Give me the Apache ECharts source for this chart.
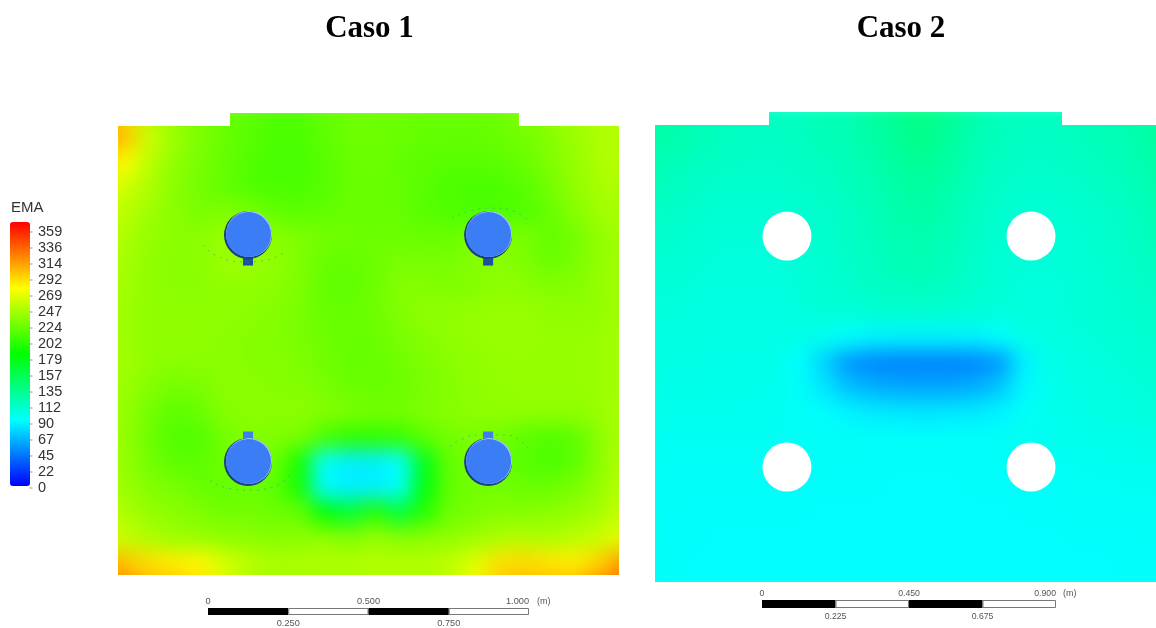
<!DOCTYPE html>
<html><head><meta charset="utf-8">
<style>html,body{margin:0;padding:0;background:#fff;overflow:hidden;width:1156px;height:628px}#c{width:1220px;height:628px}</style>
<script src="https://cdn.jsdelivr.net/npm/echarts@6/dist/echarts.min.js"></script>
</head><body><div id="c"></div>
<script>
const legendTicks=['0','22','45','67','90','112','135','157','179','202','224','247','269','292','314','336','359'];
const caso1Rows=[
[300,285,240,228,222,216,212,208,208,214,218,218,218,216,216,216,218,224,230,236,240,245],
[305,290,252,234,224,216,210,206,206,212,218,218,216,214,214,214,216,220,226,234,240,244],
[285,268,245,230,222,215,208,205,205,210,216,218,214,212,210,210,212,216,224,232,240,244],
[265,252,240,228,220,214,208,206,206,210,215,216,215,210,206,205,206,210,220,230,238,242],
[252,245,235,228,222,224,222,214,212,214,216,216,215,210,208,206,206,208,215,227,235,240],
[248,240,232,228,228,234,232,228,224,220,218,217,218,216,216,222,224,222,214,220,230,238],
[244,238,230,228,228,234,234,230,224,216,214,217,222,222,222,226,228,224,216,222,231,238],
[242,236,230,228,228,230,230,228,224,214,213,218,226,226,224,226,230,228,226,226,231,238],
[240,235,230,230,230,230,228,226,222,216,215,218,225,230,230,232,233,233,230,230,231,238],
[238,235,230,230,230,228,226,226,222,218,215,216,222,226,230,232,233,233,232,232,233,238],
[238,236,230,228,228,228,226,226,224,219,215,215,219,224,227,230,232,232,232,232,233,238],
[236,234,226,220,222,228,228,226,226,222,217,215,217,222,226,229,231,232,232,232,233,238],
[236,232,220,212,216,226,228,228,228,226,223,220,221,224,227,229,230,230,230,230,233,240],
[238,232,218,208,208,220,226,224,222,205,196,196,198,212,220,222,220,212,208,212,228,242],
[240,232,220,212,212,218,224,218,186,92,84,84,90,170,214,222,216,210,206,212,228,244],
[242,234,226,222,216,214,216,212,186,88,84,84,92,176,214,220,220,216,216,222,232,246],
[248,240,232,228,224,220,220,218,215,178,160,192,158,192,218,222,226,226,228,232,238,250],
[258,248,240,234,232,230,228,226,228,230,224,232,226,228,230,234,240,242,240,244,250,262],
[300,290,280,275,272,255,244,240,240,242,242,242,242,242,246,258,280,282,278,275,285,305],
[320,310,295,290,280,255,240,235,235,235,235,240,240,240,245,265,290,295,295,295,310,325]];
const caso2Rows=[
[119,119,115,112,111,111,112,115,117,123,129,132,127,119,113,111,111,112,115,117,121,125],
[119,119,115,112,111,111,112,115,117,121,127,131,125,117,113,111,111,112,115,117,121,125],
[117,115,112,110,109,109,110,112,115,119,124,127,122,115,111,109,109,110,112,115,119,123],
[113,112,109,107,107,107,108,110,113,117,121,124,119,113,109,107,107,108,110,112,117,121],
[109,109,107,105,105,105,106,108,111,115,119,121,117,111,107,105,105,106,108,110,115,119],
[107,107,105,103,103,103,105,107,110,114,117,118,115,110,106,104,104,105,107,109,113,115],
[105,105,103,102,102,102,104,106,109,112,115,116,113,108,105,103,103,104,106,108,111,113],
[103,103,102,101,101,101,103,105,107,110,112,113,110,107,104,102,102,103,105,107,109,111],
[102,102,101,100,100,100,102,103,104,105,106,106,105,104,102,102,102,103,105,106,108,110],
[100,100,100,99,99,99,98,95,90,86,85,85,85,86,90,97,100,102,103,104,106,108],
[99,99,99,97,97,97,90,74,52,47,46,46,46,47,54,85,97,100,102,103,105,107],
[98,98,98,97,97,96,92,81,68,62,60,59,59,62,70,88,96,99,101,102,103,105],
[96,96,96,95,95,95,93,90,86,83,82,81,82,83,86,92,96,98,100,100,102,104],
[94,94,94,94,94,94,93,93,92,92,91,91,91,92,92,94,95,96,97,97,99,100],
[93,93,93,93,93,93,92,92,92,91,91,91,91,91,92,93,94,94,95,95,96,96],
[92,92,92,92,92,92,92,91,91,91,90,90,90,91,91,92,92,93,93,94,94,95],
[92,92,91,91,91,91,91,90,90,90,90,90,90,90,90,91,91,92,92,92,93,93],
[91,91,91,90,90,90,90,90,90,90,90,90,90,90,90,90,90,91,91,91,92,92],
[91,91,90,90,90,90,90,90,90,90,90,90,90,90,90,90,90,90,90,91,91,91],
[91,91,90,90,90,90,90,90,90,90,90,90,90,90,90,90,90,90,90,91,91,91]];
const holes1=[[0.405,1.059],[1.153,1.059],[0.405,0.352],[1.153,0.352]];
const holes2=[[0.404,1.059],[1.151,1.059],[0.404,0.352],[1.151,0.352]];
const keysDark=[[0.405,0.978],[1.153,0.978]];
const keysLight=[[0.405,0.433],[1.153,0.433]];
const arcs1=[
[[0.265,1.028],[0.308,0.994],[0.389,0.975],[0.464,0.981],[0.526,1.012]],
[[1.040,1.112],[1.097,1.134],[1.168,1.143],[1.231,1.134],[1.277,1.106]],
[[0.287,0.296],[0.340,0.271],[0.411,0.265],[0.483,0.274],[0.542,0.321]],
[[1.034,0.399],[1.072,0.424],[1.128,0.436],[1.212,0.436],[1.277,0.396]]];
const scale1Segments=[0.25,0.25,0.25,0.25];
const scale2Segments=[0.225,0.225,0.225,0.225];
const rainbow=['#0000ff','#00ffff','#00ff00','#ffff00','#ff0000'];

const cells=rows=>rows.flatMap((r,y)=>r.map((v,x)=>[x,y,v]));
const idx=n=>Array.from({length:n},(_,i)=>String(i));
const Z={zlevel:1};
const hideCat=(n,extra)=>Object.assign({type:'category',data:idx(n),show:false},extra||{});
const sans='"Liberation Sans"';
const scaleLabel={color:'#555',fontFamily:sans};
function scaleAxes(g,max,size){
  const fmt=v=>v===0?'0':v.toFixed(3);
  return [
    Object.assign({},Z,{type:'value',gridIndex:g,position:'top',min:0,max:max,interval:max/2,splitLine:{show:false},axisLine:{show:false},axisTick:{show:false},
      axisLabel:Object.assign({},scaleLabel,{fontSize:size,margin:2,formatter:fmt,alignMaxLabel:'right'})}),
    Object.assign({},Z,{type:'value',gridIndex:g,position:'bottom',min:0,max:max,interval:max/4,splitLine:{show:false},axisLine:{show:false},axisTick:{show:false},
      axisLabel:Object.assign({},scaleLabel,{fontSize:size,margin:4,formatter:v=>{const k=Math.round(v/(max/4));return k%2?v.toFixed(3):'';}})})
  ];
}
function scaleSeries(segs,x,y){
  return segs.map((s,i)=>({type:'bar',zlevel:1,xAxisIndex:x,yAxisIndex:y,stack:'s'+x,barWidth:'100%',data:[s],silent:true,
    itemStyle:{color:i%2?'#fff':'#000',borderColor:'#777',borderWidth:i%2?1:0}}));
}
function dots(data,x,y,size,color,offset){
  return {type:'scatter',zlevel:1,xAxisIndex:x,yAxisIndex:y,data:data,symbol:'circle',symbolSize:size,symbolOffset:offset||[0,0],silent:true,itemStyle:{color:color,opacity:1}};
}
function keys(data,x,y,color){
  return {type:'scatter',zlevel:1,xAxisIndex:x,yAxisIndex:y,data:data,symbol:'rect',symbolSize:[10,9],silent:true,itemStyle:{color:color,opacity:1}};
}
const titleAt=(text,left,top,style)=>Object.assign({},Z,{text:text,left:left,top:top,padding:0,textAlign:style.align||'left',textStyle:{fontFamily:style.font||sans,fontSize:style.size,fontWeight:style.weight||'normal',color:style.color}});

const option={
  animation:false,
  backgroundColor:'transparent',
  tooltip:{show:false},
  title:[
    titleAt('Caso 1',369.5,13,{font:'"Liberation Serif"',size:31,weight:'bold',color:'#000',align:'center'}),
    titleAt('Caso 2',901,13,{font:'"Liberation Serif"',size:31,weight:'bold',color:'#000',align:'center'}),
    titleAt('EMA',11,200,{size:15,color:'#333'}),
    titleAt('(m)',537,597,{size:9,color:'#555'}),
    titleAt('(m)',1063,589,{size:9,color:'#555'})
  ],
  visualMap:{type:'continuous',min:0,max:359,seriesIndex:[0,1],left:10,top:222,itemWidth:20,itemHeight:264,padding:0,text:['',''],calculable:false,realtime:false,zlevel:1,silent:true,inRange:{color:rainbow}},
  grid:[
    {left:87,top:100,width:550,height:500},
    {left:637,top:100,width:550,height:500},
    {left:118,top:126,width:501,height:449},
    {left:655,top:126,width:501,height:456},
    {left:208,top:608,width:321,height:8},
    {left:762,top:600,width:294,height:8},
    {left:10,top:224,width:20,height:272}
  ],
  xAxis:[
    hideCat(22,{gridIndex:0}),
    hideCat(22,{gridIndex:1}),
    {type:'value',gridIndex:2,min:0,max:1.5607,show:false},
    {type:'value',gridIndex:3,min:0,max:1.5335,show:false},
    ...scaleAxes(4,1,9.2),
    ...scaleAxes(5,0.9,8.7),
    {type:'value',gridIndex:6,min:0,max:1,show:false}
  ],
  yAxis:[
    hideCat(20,{gridIndex:0,inverse:true}),
    hideCat(20,{gridIndex:1,inverse:true}),
    {type:'value',gridIndex:2,min:0,max:1.3988,show:false},
    {type:'value',gridIndex:3,min:0,max:1.3958,show:false},
    {type:'category',gridIndex:4,data:['e'],show:false},
    {type:'category',gridIndex:5,data:['e'],show:false},
    Object.assign({},Z,{type:'category',gridIndex:6,position:'right',data:legendTicks,axisLine:{show:false},
      axisTick:{show:false},
      axisLabel:{margin:8,interval:0,fontFamily:sans,fontSize:14.5,color:'#333'}})
  ],
  series:[
    {type:'heatmap',zlevel:0,progressive:0,silent:true,xAxisIndex:0,yAxisIndex:0,data:cells(caso1Rows)},
    {type:'heatmap',zlevel:0,progressive:0,silent:true,xAxisIndex:1,yAxisIndex:1,data:cells(caso2Rows)},
    ...arcs1.map(a=>({type:'line',zlevel:1,xAxisIndex:2,yAxisIndex:2,data:a,smooth:true,showSymbol:false,silent:true,lineStyle:{color:'#3a8f9a',width:0.9,type:[2,5],opacity:.6}})),
    keys(keysDark,2,2,'#1d4fa5'),
    keys(keysLight,2,2,'#3c7ff0'),
    dots(holes1,2,2,48,'#1c3f7f'),
    dots(holes1,2,2,46,'#a9caff',[1,-1]),
    dots(holes1,2,2,45,'#3b7df5',[0.5,-0.5]),
    dots(holes2,3,3,49,'#ffffff'),
    ...scaleSeries(scale1Segments,4,4),
    ...scaleSeries(scale2Segments,6,5),
    {type:'scatter',zlevel:1,xAxisIndex:8,yAxisIndex:6,silent:true,symbol:'rect',symbolSize:[3,1],symbolOffset:[1,0],
      data:legendTicks.map(t=>[1,t]),itemStyle:{color:'#999',opacity:1}}
  ]
};
const chart=echarts.init(document.getElementById('c'),null,{renderer:'canvas'});
chart.setOption(option);
const panelClip="path('M118 126H230V113H519V126H619V575H118Z M655 125H769V112H1062V125H1156V582H655Z')";
function treat(){
  const cs=chart.getDom().querySelectorAll('canvas');
  if(cs[0]){cs[0].style.filter='blur(10px)';cs[0].style.clipPath=panelClip;}
  if(cs[1]){cs[1].style.filter='blur(0.45px)';}
}
treat();
chart.on('finished',treat);
</script></body></html>
